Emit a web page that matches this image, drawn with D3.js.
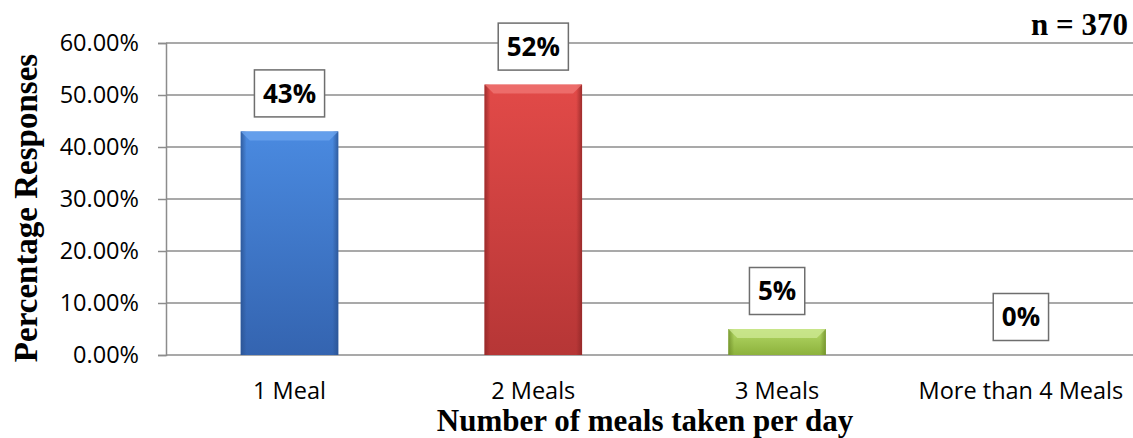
<!DOCTYPE html>
<html>
<head>
<meta charset="utf-8">
<script src="https://cdn.jsdelivr.net/npm/d3@7"></script>
<style>
  body { margin: 0; background: #fff; }
  svg { display: block; }
</style>
</head>
<body>
<div id="chart"></div>
<script>
// chart data
const categories = ["1 Meal", "2 Meals", "3 Meals", "More than 4 Meals"]
const values = [0.43, 0.52, 0.05, 0.0]
const valueLabels = ["43%", "52%", "5%", "0%"]
const yTicks = [0, 0.1, 0.2, 0.3, 0.4, 0.5, 0.6]
const barColors = [
    { top: "#4a8ae0", bottom: "#3464b0", bevel: "#6ea6ef", edge: "#2a5290" },
    { top: "#e24a48", bottom: "#b63636", bevel: "#f07876", edge: "#8e2626" },
    { top: "#b4d867", bottom: "#8db23c", bevel: "#cfe996", edge: "#6d8c28" }
]

const W = 1133, H = 438
const plotLeft = 166, plotRight = 1133, plotTop = 43, plotBottom = 355

const svg = d3.select("#chart")
    .append("svg")
    .attr("width", W)
    .attr("height", H)

// gradients for bars
const defs = svg.append("defs")
barColors.forEach((c, i) => {
    const g = defs.append("linearGradient")
        .attr("id", "grad" + i)
        .attr("x1", "0").attr("x2", "0").attr("y1", "0").attr("y2", "1")
    g.append("stop").attr("offset", "0%").attr("stop-color", c.top)
    g.append("stop").attr("offset", "100%").attr("stop-color", c.bottom)

    const e = defs.append("linearGradient")
        .attr("id", "edge" + i)
        .attr("x1", "0").attr("x2", "1").attr("y1", "0").attr("y2", "0")
    e.append("stop").attr("offset", "0%").attr("stop-color", c.edge).attr("stop-opacity", 0.8)
    e.append("stop").attr("offset", "6%").attr("stop-color", c.edge).attr("stop-opacity", 0)
    e.append("stop").attr("offset", "94%").attr("stop-color", c.edge).attr("stop-opacity", 0)
    e.append("stop").attr("offset", "100%").attr("stop-color", c.edge).attr("stop-opacity", 0.8)
})

// scales
const x = d3.scaleBand()
    .domain(categories)
    .range([167.6, 1142.8])
    .paddingInner(0.6)
    .paddingOuter(0.3)

const y = d3.scaleLinear()
    .domain([0, 0.6])
    .range([plotBottom, plotTop])

// gridlines
svg.append("g")
    .selectAll("line")
    .data(yTicks)
    .join("line")
    .attr("x1", plotLeft)
    .attr("x2", plotRight)
    .attr("y1", d => y(d))
    .attr("y2", d => y(d))
    .attr("stroke", "#8c8c8c")
    .attr("stroke-width", 1.5)

// y axis
const yAxis = svg.append("g")
    .attr("transform", `translate(${plotLeft},0)`)
    .call(d3.axisLeft(y).tickValues(yTicks).tickFormat(d3.format(".2%")).tickSize(8).tickPadding(19))
yAxis.select(".domain").attr("stroke", "#8c8c8c").attr("stroke-width", 1.5)
yAxis.selectAll(".tick line").attr("stroke", "#8c8c8c").attr("stroke-width", 1.5)
yAxis.selectAll("text")
    .attr("font-family", "'Open Sans', sans-serif")
    .attr("font-size", 23.5)
    .attr("fill", "#000")

// bars
const bars = svg.append("g")
    .selectAll("g")
    .data(values)
    .join("g")

bars.append("rect")
    .attr("x", (d, i) => x(categories[i]))
    .attr("y", d => y(d))
    .attr("width", x.bandwidth())
    .attr("height", d => plotBottom - y(d))
    .attr("fill", (d, i) => d > 0 ? `url(#grad${i})` : "none")

bars.append("rect")
    .attr("x", (d, i) => x(categories[i]))
    .attr("y", d => y(d))
    .attr("width", x.bandwidth())
    .attr("height", d => plotBottom - y(d))
    .attr("fill", (d, i) => d > 0 ? `url(#edge${i})` : "none")

// bevel strip along the top of each bar
bars.append("path")
    .attr("d", (d, i) => {
        if (d <= 0) return null
        const x0 = x(categories[i]), x1 = x0 + x.bandwidth()
        const t = y(d), b = Math.min(t + 9, plotBottom)
        return `M${x0},${t}L${x1},${t}L${x1 - 9},${b}L${x0 + 9},${b}Z`
    })
    .attr("fill", (d, i) => barColors[i] ? barColors[i].bevel : "none")
    .attr("opacity", 0.75)

// x labels
svg.append("g")
    .selectAll("text")
    .data(categories)
    .join("text")
    .attr("x", d => x(d) + x.bandwidth() / 2)
    .attr("y", 399)
    .attr("text-anchor", "middle")
    .attr("font-family", "'Open Sans', sans-serif")
    .attr("font-size", 23.5)
    .text(d => d)

// data label boxes
const labels = svg.append("g")
    .selectAll("g")
    .data(values)
    .join("g")
    .attr("transform", (d, i) => `translate(${x(categories[i]) + x.bandwidth() / 2},${y(d) - 38})`)

labels.append("text")
    .attr("text-anchor", "middle")
    .attr("dy", "0.36em")
    .attr("font-family", "'Open Sans', sans-serif")
    .attr("font-weight", "bold")
    .attr("font-size", 26)
    .text((d, i) => valueLabels[i])

labels.insert("rect", "text")
    .each(function () {
        const w = this.parentNode.querySelector("text").getBBox().width + 17
        d3.select(this)
            .attr("x", -w / 2)
            .attr("width", w)
    })
    .attr("y", -23.5)
    .attr("height", 47)
    .attr("fill", "#fff")
    .attr("stroke", "#6e6e6e")
    .attr("stroke-width", 1.5)

// titles
svg.append("text")
    .attr("transform", "translate(37,208) rotate(-90)")
    .attr("text-anchor", "middle")
    .attr("font-family", "'Liberation Serif', 'Times New Roman', serif")
    .attr("font-weight", "bold")
    .attr("font-size", 33)
    .text("Percentage Responses")

svg.append("text")
    .attr("x", 645)
    .attr("y", 431)
    .attr("text-anchor", "middle")
    .attr("font-family", "'Liberation Serif', 'Times New Roman', serif")
    .attr("font-weight", "bold")
    .attr("font-size", 31)
    .text("Number of meals taken per day")

svg.append("text")
    .attr("x", 1128)
    .attr("y", 35)
    .attr("text-anchor", "end")
    .attr("font-family", "'Liberation Serif', 'Times New Roman', serif")
    .attr("font-weight", "bold")
    .attr("font-size", 31)
    .text("n = 370")
</script>
</body>
</html>
